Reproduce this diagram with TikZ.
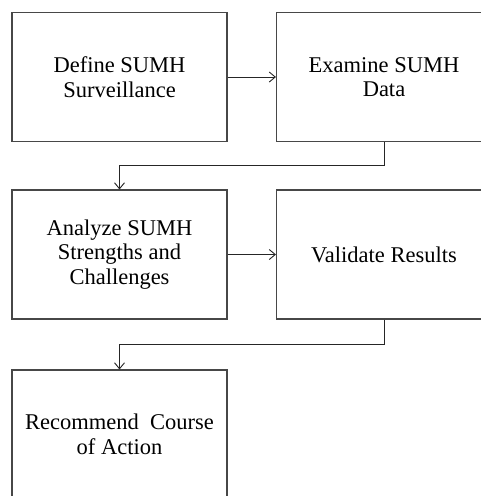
\documentclass[tikz,border=0pt]{standalone}
\usepackage{fontspec}
\setmainfont{Liberation Serif}
\usetikzlibrary{arrows.meta}
\begin{document}
\begin{tikzpicture}[x=1pt,y=-1pt,
  stepbox/.style={draw=black!72, line width=1.1pt, rectangle, minimum width=215pt, minimum height=129pt,
    inner sep=0pt, align=center, font=\fontsize{22.5}{24.5}\selectfont},
  conn/.style={draw=black!85, line width=0.9pt, -{Straight Barb[length=6pt,width=10pt]}}]
\useasboundingbox (0,0) rectangle (481,496);
\clip (0,0) rectangle (481,496);
\fill[white] (0,0) rectangle (481,496);
\node[stepbox] (b1) at (119.5,77) {Define SUMH\\Surveillance};
\node[stepbox] (b2) at (384,77) {Examine SUMH\\Data};
\node[stepbox] (b3) at (119.5,254.5) {Analyze SUMH\\Strengths and\\Challenges};
\node[stepbox] (b4) at (384,254.5) {Validate Results};
\node[stepbox] (b5) at (119.5,434.5) {Recommend\ \ Course\\of Action};
\draw[conn] (b1.east) -- (b2.west);
\draw[conn] (b3.east) -- (b4.west);
\draw[conn] (b2.south) -- ++(0,23.5) -| (b3.north);
\draw[conn] (b4.south) -- ++(0,25) -| (b5.north);
\end{tikzpicture}
\end{document}
